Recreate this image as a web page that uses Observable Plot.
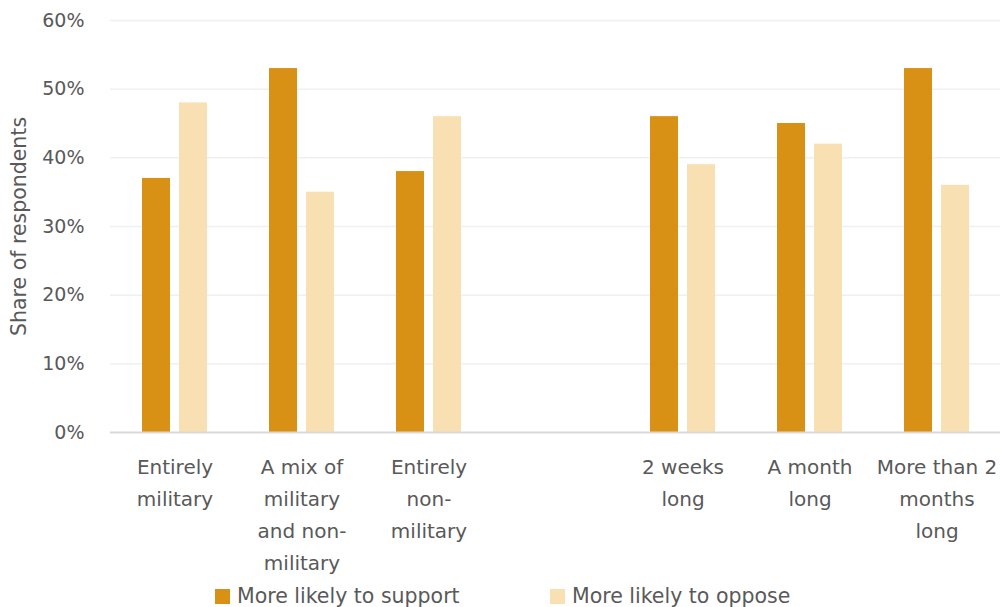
<!DOCTYPE html>
<html>
<head>
<meta charset="utf-8">
<script src="https://cdn.jsdelivr.net/npm/d3@7"></script>
<script src="https://cdn.jsdelivr.net/npm/@observablehq/plot@0.6"></script>
<style>
  body { margin: 0; background: #fff; font-family: "DejaVu Sans", sans-serif; color: #595959; }
  #legend { position: relative; height: 25px; font-size: 20.5px; line-height: 25px; }
  .item { position: absolute; top: 2px; display: flex; align-items: center; }
  .sw { width: 15px; height: 15px; margin-right: 7px; }
</style>
</head>
<body>
<div id="chart"></div>
<div id="legend"></div>
<script>
const categories = ["Entirely military", "A mix of military and non-military", "Entirely non-military", " ", "2 weeks long", "A month long", "More than 2 months long"];
const tickLabels = ["Entirely\nmilitary", "A mix of\nmilitary\nand non-\nmilitary", "Entirely\nnon-\nmilitary", "", "2 weeks\nlong", "A month\nlong", "More than 2\nmonths\nlong"];
const series = ["More likely to support", "More likely to oppose"];
const support = [37, 53, 38, null, 46, 45, 53];
const oppose = [48, 35, 46, null, 39, 42, 36];
const yTicks = [0, 10, 20, 30, 40, 50, 60];
const yLabel = "Share of respondents";
const colors = ["#D89015", "#F8E0B3"];

const supportData = categories.map((c, i) => ({category: c, value: support[i]})).filter(d => d.value != null);
const opposeData = categories.map((c, i) => ({category: c, value: oppose[i]})).filter(d => d.value != null);

const chart = Plot.plot({
  width: 1003,
  height: 582,
  marginLeft: 110,
  marginRight: 3,
  marginTop: 20,
  marginBottom: 150,
  style: {fontFamily: "'DejaVu Sans', sans-serif", fontSize: "18px", color: "#595959", background: "#fff"},
  x: {domain: categories, padding: 0, label: null},
  y: {domain: [0, 60], label: null},
  marks: [
    Plot.ruleY(yTicks.filter(d => d > 0), {stroke: "#f0f0f0", strokeWidth: 1.5}),
    Plot.barY(supportData, {x: "category", y: "value", fill: colors[0], insetLeft: 31, insetRight: 68}),
    Plot.barY(opposeData, {x: "category", y: "value", fill: colors[1], insetLeft: 68, insetRight: 31}),
    Plot.ruleY([0], {stroke: "#d9d9d9", strokeWidth: 2}),
    Plot.axisY(yTicks, {
      tickSize: 0, tickPadding: 26, tickFormat: d => d + "%", fontSize: 19, label: null
    }),
    Plot.text([yLabel], {
      text: d => d, frameAnchor: "left", rotate: -90, dx: -91, fontSize: 20.5,
      fill: "#595959", textAnchor: "middle", lineAnchor: "middle"
    }),
    Plot.axisX({
      anchor: "bottom", tickSize: 0, tickPadding: 19, fontSize: 20, lineHeight: 1.6, label: null,
      tickFormat: d => tickLabels[categories.indexOf(d)]
    })
  ]
});
document.getElementById("chart").appendChild(chart);

const legend = document.getElementById("legend");
const lefts = [215, 550];
series.forEach((s, i) => {
  const it = document.createElement("div");
  it.className = "item";
  it.style.left = lefts[i] + "px";
  it.innerHTML = `<div class="sw" style="background:${colors[i]}"></div><span>${s}</span>`;
  legend.appendChild(it);
});
</script>
</body>
</html>
